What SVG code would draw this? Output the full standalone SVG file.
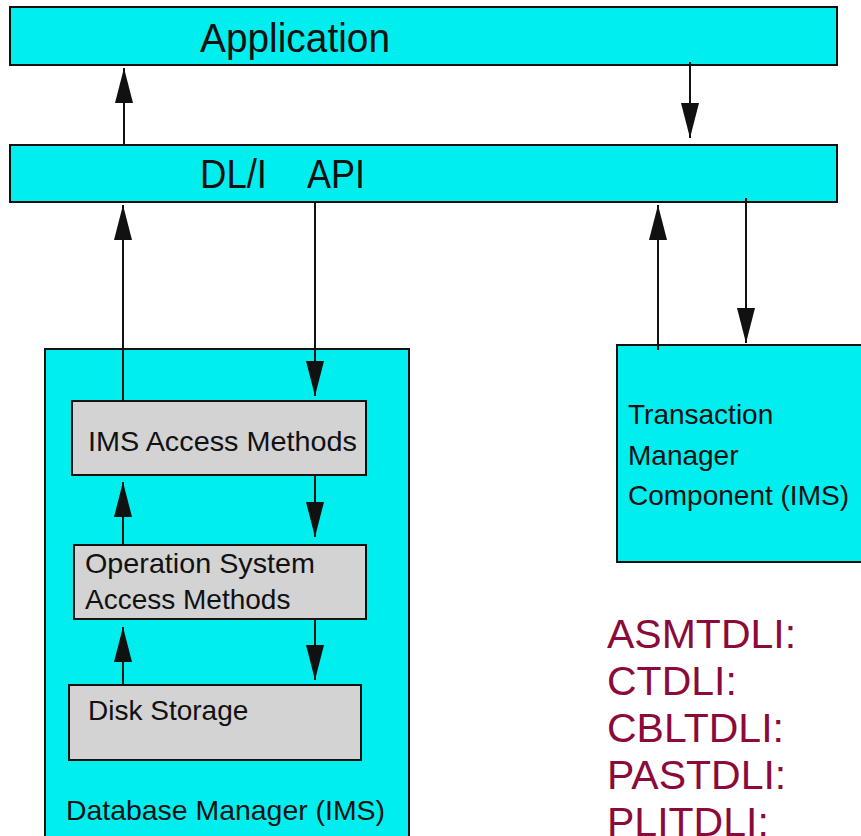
<svg xmlns="http://www.w3.org/2000/svg" width="861" height="836" viewBox="0 0 861 836">
<defs>
<style>
.cy{fill:#00eeee;stroke:#111;stroke-width:2}
.gr{fill:#d3d3d3;stroke:#111;stroke-width:2}
.t{font-family:"Liberation Sans",Arial,sans-serif;fill:#111}
.big{font-size:41px}
.sm{font-size:28px}
.red{font-family:"Liberation Sans",Arial,sans-serif;font-size:41px;fill:#8b0a3a}
.c line{stroke:#111;stroke-width:2;marker-end:url(#ah)}
</style>
<marker id="ah" markerUnits="userSpaceOnUse" viewBox="0 0 35 18" markerWidth="35" markerHeight="18" refX="35" refY="9" orient="auto">
<path d="M0,0 L35,9 L0,18 Z" fill="#111"/>
</marker>
</defs>
<g id="application">
<rect class="cy" x="10" y="7" width="827" height="58"/>
<text class="t big" x="200" y="52" textLength="190" lengthAdjust="spacingAndGlyphs">Application</text>
</g>
<g id="dli-api">
<rect class="cy" x="10" y="145" width="827" height="57"/>
<text class="t big" y="188"><tspan x="200" textLength="67" lengthAdjust="spacingAndGlyphs">DL/I</tspan><tspan x="307" textLength="58" lengthAdjust="spacingAndGlyphs">API</tspan></text>
</g>
<g id="database-manager">
<rect class="cy" x="45" y="349" width="364" height="500"/>
<text class="t sm" x="66" y="820" textLength="319" lengthAdjust="spacingAndGlyphs">Database Manager (IMS)</text>
</g>
<g id="ims-access">
<rect class="gr" x="72" y="401" width="294" height="74"/>
<text class="t sm" x="88" y="451" textLength="269" lengthAdjust="spacingAndGlyphs">IMS Access Methods</text>
</g>
<g id="os-access">
<rect class="gr" x="74" y="545" width="292" height="74"/>
<text class="t sm" x="85" y="573" textLength="230" lengthAdjust="spacingAndGlyphs">Operation System</text>
<text class="t sm" x="85" y="609">Access Methods</text>
</g>
<g id="disk-storage">
<rect class="gr" x="69" y="685" width="292" height="75"/>
<text class="t sm" x="88" y="720">Disk Storage</text>
</g>
<g id="transaction-manager">
<rect class="cy" x="617" y="345" width="260" height="217"/>
<text class="t sm" x="628" y="424">Transaction</text>
<text class="t sm" x="628" y="465">Manager</text>
<text class="t sm" x="628" y="505">Component (IMS)</text>
</g>
<g id="interfaces">
<text class="red" x="607" y="648">ASMTDLI:</text>
<text class="red" x="607" y="695">CTDLI:</text>
<text class="red" x="607" y="742">CBLTDLI:</text>
<text class="red" x="607" y="789">PASTDLI:</text>
<text class="red" x="607" y="836">PLITDLI:</text>
</g>
<g id="connectors" class="c">
<line x1="124" y1="145" x2="124" y2="68"/>
<line x1="690" y1="62" x2="690" y2="138"/>
<line x1="123" y1="401" x2="123" y2="205"/>
<line x1="315" y1="203" x2="315" y2="396"/>
<line x1="123" y1="545" x2="123" y2="482"/>
<line x1="315" y1="476" x2="315" y2="537"/>
<line x1="123" y1="685" x2="123" y2="627"/>
<line x1="315" y1="620" x2="315" y2="680"/>
<line x1="658" y1="350" x2="658" y2="205"/>
<line x1="746" y1="198" x2="746" y2="343"/>
</g>
</svg>
